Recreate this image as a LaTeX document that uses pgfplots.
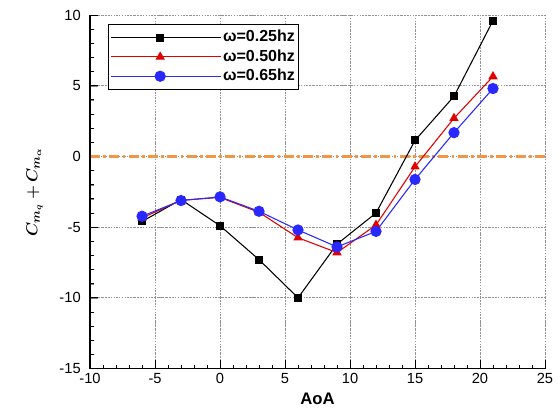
\documentclass[border=0pt]{standalone}
\usepackage{pgfplots}
\pgfplotsset{compat=1.18}
\usepackage{bm}
\usepackage{fontspec}
\setmainfont{Liberation Sans}
\definecolor{myorange}{RGB}{240,150,70}
\definecolor{myblue}{RGB}{40,40,255}
\definecolor{myred}{RGB}{225,0,0}
\pgfplotsset{
  longlegend/.style={
    legend image code/.code={\draw[mark repeat=2,mark phase=2,##1] plot coordinates {(0pt,0pt) (36.75pt,0pt) (73.5pt,0pt)}; \path (0pt,0pt) -- (82pt,0pt);}
  }
}
\begin{document}
\begin{tikzpicture}
\begin{axis}[
  scale only axis,
  width=341pt, height=265pt,
  xmin=-10, xmax=25, ymin=-15, ymax=10,
  xtick={-10,-5,0,5,10,15,20,25}, ytick={-15,-10,-5,0,5,10},
  xticklabels={-10,-5,0,5,10,15,20,25},
  yticklabels={-15,-10,-5,0,5,10},
  minor x tick num=4, minor y tick num=4,
  xtick pos=bottom, ytick pos=left,
  axis line style={draw=none},
  tick align=inside,
  major tick length=6pt, minor tick length=3pt,
  grid=major,
  grid style={gray!85, line width=0.6pt, dash pattern=on 0.7pt off 1.3pt},
  ticklabel style={font=\fontsize{11}{12}\selectfont},
  yticklabel style={xshift=-3.5pt},
  xlabel={\textbf{AoA}},
  xlabel style={font=\fontsize{12.5}{13}\selectfont, at={(axis description cs:0.5,0)}, anchor=center, yshift=-22.5pt},
  ylabel={$\bm{C_{m_q}+C_{m_\alpha}}$},
  ylabel style={font=\fontsize{13}{14}\selectfont, at={(axis description cs:-0.122,0.5)}, anchor=center},
  legend style={at={(0.0396,0.9745)}, anchor=north west, draw=black, line width=0.8pt,
    font=\bfseries\fontsize{12}{13}\selectfont, inner xsep=1.5pt, inner ysep=3pt,
    row sep=1pt,
    nodes={inner xsep=1.5pt, inner ysep=1pt, text height=9pt, text depth=2.5pt}},
  legend cell align=left,
  longlegend,
  clip=false,
]
% dotted grid
\addplot[gray!85, line width=0.6pt, dash pattern=on 0.8pt off 1.4pt, mark=none, unbounded coords=jump, forget plot] coordinates {
(-5,-15) (-5,10) (-5,nan)
(0,-15) (0,10) (0,nan)
(5,-15) (5,10) (5,nan)
(10,-15) (10,10) (10,nan)
(15,-15) (15,10) (15,nan)
(20,-15) (20,10) (20,nan)
(25,-15) (25,10) (25,nan)
(-10,-10) (25,-10) (25,nan)
(-10,-5) (25,-5) (25,nan)
(-10,5) (25,5) (25,nan)
(-10,10) (25,10)};
% major ticks
\addplot[black, line width=0.7pt, mark=none, unbounded coords=jump, forget plot] coordinates {
(-5,-15) (-5,-14.43) (-5,nan)
(0,-15) (0,-14.43) (0,nan)
(5,-15) (5,-14.43) (5,nan)
(10,-15) (10,-14.43) (10,nan)
(15,-15) (15,-14.43) (15,nan)
(20,-15) (20,-14.43) (20,nan)
(25,-15) (25,-14.43) (25,nan)
(-10,-10) (-9.38,-10) (-9.38,nan)
(-10,-5) (-9.38,-5) (-9.38,nan)
(-10,0) (-9.38,0) (-9.38,nan)
(-10,5) (-9.38,5) (-9.38,nan)
(-10,10) (-9.38,10)};
% minor ticks
\addplot[black, line width=0.6pt, mark=none, unbounded coords=jump, forget plot] coordinates {
(-9,-15) (-9,-14.72) (-9,nan) (-8,-15) (-8,-14.72) (-8,nan) (-7,-15) (-7,-14.72) (-7,nan) (-6,-15) (-6,-14.72) (-6,nan)
(-4,-15) (-4,-14.72) (-4,nan) (-3,-15) (-3,-14.72) (-3,nan) (-2,-15) (-2,-14.72) (-2,nan) (-1,-15) (-1,-14.72) (-1,nan)
(1,-15) (1,-14.72) (1,nan) (2,-15) (2,-14.72) (2,nan) (3,-15) (3,-14.72) (3,nan) (4,-15) (4,-14.72) (4,nan)
(6,-15) (6,-14.72) (6,nan) (7,-15) (7,-14.72) (7,nan) (8,-15) (8,-14.72) (8,nan) (9,-15) (9,-14.72) (9,nan)
(11,-15) (11,-14.72) (11,nan) (12,-15) (12,-14.72) (12,nan) (13,-15) (13,-14.72) (13,nan) (14,-15) (14,-14.72) (14,nan)
(16,-15) (16,-14.72) (16,nan) (17,-15) (17,-14.72) (17,nan) (18,-15) (18,-14.72) (18,nan) (19,-15) (19,-14.72) (19,nan)
(21,-15) (21,-14.72) (21,nan) (22,-15) (22,-14.72) (22,nan) (23,-15) (23,-14.72) (23,nan) (24,-15) (24,-14.72) (24,nan)
(-10,-14) (-9.69,-14) (-9.69,nan) (-10,-13) (-9.69,-13) (-9.69,nan) (-10,-12) (-9.69,-12) (-9.69,nan) (-10,-11) (-9.69,-11) (-9.69,nan)
(-10,-9) (-9.69,-9) (-9.69,nan) (-10,-8) (-9.69,-8) (-9.69,nan) (-10,-7) (-9.69,-7) (-9.69,nan) (-10,-6) (-9.69,-6) (-9.69,nan)
(-10,-4) (-9.69,-4) (-9.69,nan) (-10,-3) (-9.69,-3) (-9.69,nan) (-10,-2) (-9.69,-2) (-9.69,nan) (-10,-1) (-9.69,-1) (-9.69,nan)
(-10,1) (-9.69,1) (-9.69,nan) (-10,2) (-9.69,2) (-9.69,nan) (-10,3) (-9.69,3) (-9.69,nan) (-10,4) (-9.69,4) (-9.69,nan)
(-10,6) (-9.69,6) (-9.69,nan) (-10,7) (-9.69,7) (-9.69,nan) (-10,8) (-9.69,8) (-9.69,nan) (-10,9) (-9.69,9)};
\addplot[myorange, line width=2pt, dash pattern=on 7.5pt off 2.5pt on 2pt off 2.5pt, forget plot]
  coordinates {(-10,0) (25,0)};
\addplot[black, line width=0.8pt, mark=square*, mark size=2.6pt, mark options={solid}] coordinates {
(-6,-4.6) (-3,-3.05) (0,-4.9) (3,-7.3) (6,-10) (9,-6.2) (12,-4.0) (15,1.13) (18,4.25) (21,9.6)};
\addlegendentry{ω=0.25hz}
\addplot[myred, line width=0.8pt, mark=triangle*, mark size=3.3pt, mark options={solid}] coordinates {
(-6,-4.35) (-3,-3.1) (0,-2.9) (3,-3.95) (6,-5.75) (9,-6.8) (12,-4.85) (15,-0.73) (18,2.7) (21,5.65)};
\addlegendentry{ω=0.50hz}
\addplot[myblue, line width=0.8pt, mark=*, mark size=3.8pt, mark options={solid}] coordinates {
(-6,-4.23) (-3,-3.12) (0,-2.86) (3,-3.88) (6,-5.2) (9,-6.4) (12,-5.3) (15,-1.63) (18,1.68) (21,4.8)};
\addlegendentry{ω=0.65hz}
\draw[black, line width=0.9pt] (rel axis cs:0,1) -- (rel axis cs:0,0) -- (rel axis cs:1,0);
\path (rel axis cs:0,0) ++(-67.5pt,-34pt) (rel axis cs:1,1) ++(11.25pt,11.25pt);
\end{axis}
\end{tikzpicture}
\end{document}
